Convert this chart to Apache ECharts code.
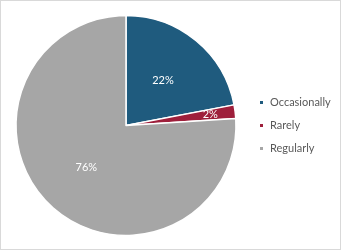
<!DOCTYPE html>
<html><head><meta charset="utf-8">
<script src="https://cdn.jsdelivr.net/npm/echarts@6/dist/echarts.min.js"></script>
<style>
html,body{margin:0;padding:0;background:#fff;}
#c{position:absolute;left:0;top:0;width:339px;height:248px;border:1px solid #d9d9d9;}
</style></head>
<body><div id="c"></div>
<script>
const categories = ["Occasionally", "Rarely", "Regularly"];
const values = [22, 2, 76];
const colors = ["#1f5b7e", "#9e1f3b", "#a6a6a6"];

const chart = echarts.init(document.getElementById('c'), null, {renderer:'canvas'});
const font = 'Lato, "Open Sans", sans-serif';
const data = categories.map((c,i)=>({name:c, value:values[i], itemStyle:{color:colors[i]},
  label:{show: i!==1}}));
const labelData = categories.map((c,i)=>({name:c, value:values[i],
  label:{show: i===1}}));
chart.setOption({
  animation:false,
  legend:{
    orient:'vertical', left:252, top:91, itemGap:12,
    icon:'rect', itemWidth:5, itemHeight:5,
    textStyle:{fontFamily:font, fontSize:11, color:'#595959', padding:[0,0,0,1]},
    data:categories
  },
  series:[{
    type:'pie', center:[125,124.5], radius:[0,110], startAngle:90, clockwise:true,
    data:data,
    itemStyle:{borderColor:'#fff', borderWidth:1.5},
    label:{position:'inner', formatter:p=>p.value+'%', color:'#fff', fontFamily:font, fontSize:11},
    labelLine:{show:false}, emphasis:{disabled:true}
  },{
    type:'pie', center:[125,124.5], radius:[54,110], startAngle:90, clockwise:true, silent:true,
    data:labelData,
    itemStyle:{color:'transparent'},
    label:{position:'inner', formatter:p=>p.value+'%', color:'#fff', fontFamily:font, fontSize:11},
    labelLine:{show:false}, emphasis:{disabled:true}, legendHoverLink:false
  }]
});
</script></body></html>
